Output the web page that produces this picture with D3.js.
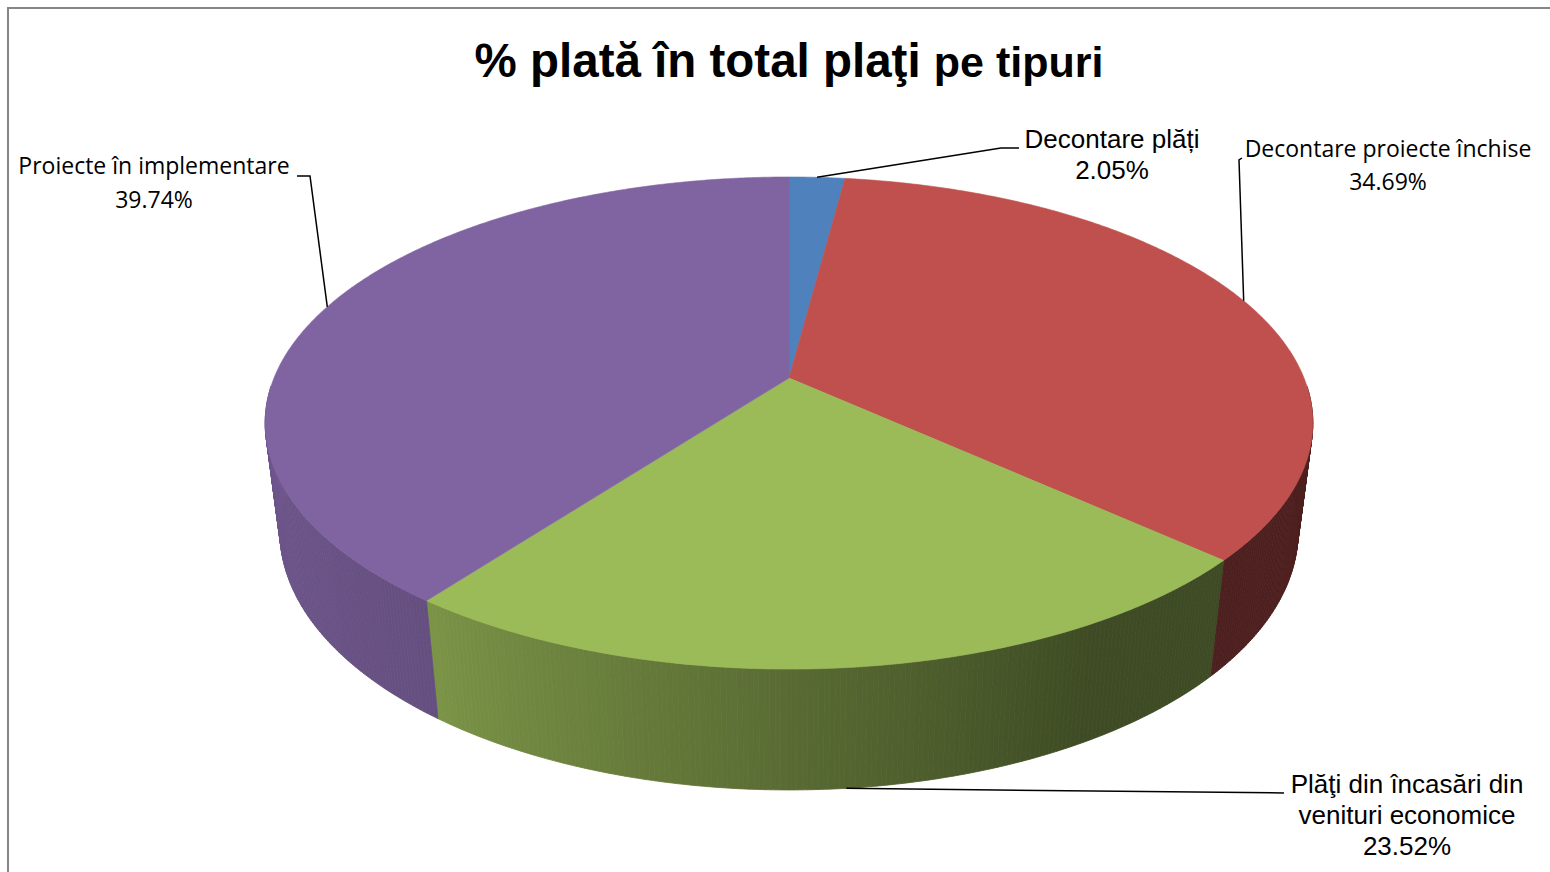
<!DOCTYPE html>
<html>
<head>
<meta charset="utf-8">
<script src="https://cdn.jsdelivr.net/npm/d3@7"></script>
<style>
  html, body { margin: 0; padding: 0; background: #ffffff; }
  svg { display: block; }
</style>
</head>
<body>
<svg id="chart" width="1550" height="872"></svg>
<script>
// ---------------- data ----------------
const titleMain = "% plată în total plaţi";
const titleTail = "pe tipuri";
const categories = ["Decontare plăți", "Decontare proiecte închise", "Plăţi din încasări din venituri economice", "Proiecte în implementare"];
const values = [2.05, 34.69, 23.52, 39.74];
const valueLabels = ["2.05%", "34.69%", "23.52%", "39.74%"];
const colors = ["#4F81BD", "#C0504D", "#9BBB59", "#8064A2"];

// ---------------- layout ----------------
const svg = d3.select("#chart");

svg.append("rect").attr("x", 8).attr("y", 8).attr("width", 1600).attr("height", 1000)
  .attr("fill", "#fff").attr("stroke", "#868686").attr("stroke-width", 2);

// perspective projection of the pie disk
const P = { x0: 789, y0: 378, A: 515, B: 237.8, C: 110.3, k: 0.183, m: 0.028 };
function proj(phi, h) {
  const u = Math.sin(phi), v = -Math.cos(phi);
  const w = 1 - P.k * v + P.m * h;
  return [P.x0 + P.A * u / w, P.y0 + (P.B * v + P.C * h) / w];
}

const pie = d3.pie().sort(null).value(d => d)(values);
const deg = Math.PI / 180;

// wall shading by angle (light from the left)
const shade = d3.scaleLinear().domain([90, 150, 217, 270]).range([0.41, 0.40, 0.79, 0.88]).clamp(true);
function darken(col, f) {
  const c = d3.rgb(col);
  return d3.rgb(c.r * f, c.g * f, c.b * f).formatHex();
}

// side walls (front half only)
const gWalls = svg.append("g");
const visLo = 92 * deg, visHi = 268 * deg;
pie.forEach((s, i) => {
  const a0 = Math.max(s.startAngle, visLo), a1 = Math.min(s.endAngle, visHi);
  if (a1 <= a0) return;
  const step = 0.5 * deg;
  for (let a = a0; a < a1 - 1e-9; a += step) {
    const b = Math.min(a + step, a1);
    const p1 = proj(a, 0), p2 = proj(b, 0), p3 = proj(b, 1), p4 = proj(a, 1);
    const col = darken(colors[i], shade(((a + b) / 2) / deg));
    gWalls.append("path")
      .attr("d", d3.line()([p1, p2, p3, p4]) + "Z")
      .attr("fill", col).attr("stroke", col).attr("stroke-width", 0.8);
  }
});

// top faces
const gTop = svg.append("g");
pie.forEach((s, i) => {
  const pts = [[P.x0, P.y0]];
  const n = Math.max(2, Math.ceil((s.endAngle - s.startAngle) / (0.5 * deg)));
  for (let j = 0; j <= n; j++) {
    const a = s.startAngle + (s.endAngle - s.startAngle) * j / n;
    pts.push(proj(a, 0));
  }
  gTop.append("path")
    .attr("d", d3.line()(pts) + "Z")
    .attr("fill", colors[i]).attr("stroke", colors[i]).attr("stroke-width", 0.6);
});

// ---------------- title ----------------
const title = svg.append("text")
  .attr("x", 789).attr("y", 77).attr("text-anchor", "middle")
  .attr("font-family", "'Liberation Sans', Arial, sans-serif").attr("font-weight", "bold")
  .attr("fill", "#000");
title.append("tspan").attr("font-size", 47.5).text(titleMain + " ");
title.append("tspan").attr("font-size", 43).text(titleTail);

// ---------------- labels & leader lines ----------------
const arialF = "'Liberation Sans', Arial, sans-serif";
const calF = "'Open Sans', 'Noto Sans', sans-serif";
const mid = s => (s.startAngle + s.endAngle) / 2;

const labels = [
  { i: 0, font: arialF, size: 26, x: 1112, lines: [categories[0], valueLabels[0]], y: [148, 179],
    anchorH: 0, path: a => [a, [1001, 148], [1019, 148]] },
  { i: 1, font: calF, size: 23, x: 1388, lines: [categories[1], valueLabels[1]], y: [157, 190],
    anchorH: 0, path: a => [a, [1239, 160], [1242, 158]] },
  { i: 2, font: arialF, size: 26, x: 1407, lines: ["Plăţi din încasări din", "venituri economice", valueLabels[2]], y: [793, 824, 855],
    anchorH: 1, path: a => [a, [1284, 793]] },
  { i: 3, font: calF, size: 23, x: 154, lines: [categories[3], valueLabels[3]], y: [174, 208],
    anchorH: 0, path: a => [a, [310, 176], [297, 176]] }
];

const gLab = svg.append("g");
labels.forEach(L => {
  const anchor = proj(mid(pie[L.i]), L.anchorH);
  gLab.append("path").attr("d", d3.line()(L.path(anchor)))
    .attr("fill", "none").attr("stroke", "#000").attr("stroke-width", 1.5);
  const t = gLab.append("text").attr("text-anchor", "middle")
    .attr("font-family", L.font).attr("font-size", L.size).attr("fill", "#000");
  L.lines.forEach((ln, j) => {
    t.append("tspan").attr("x", L.x).attr("y", L.y[j]).text(ln);
  });
});
</script>
</body>
</html>
